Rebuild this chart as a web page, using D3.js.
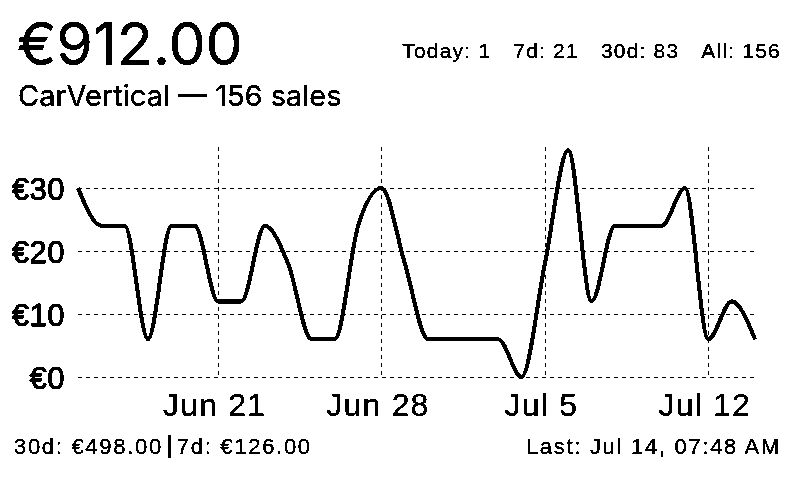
<!DOCTYPE html>
<html>
<head>
<meta charset="utf-8">
<script src="https://cdn.jsdelivr.net/npm/d3@7"></script>
<style>
  html, body { margin: 0; padding: 0; background: #fff; }
  svg { display: block; }
</style>
</head>
<body>
<svg id="chart" width="800" height="480"></svg>
<script>
// ---- data ----
const dates = [
  "2025-06-15","2025-06-16","2025-06-17","2025-06-18","2025-06-19","2025-06-20",
  "2025-06-21","2025-06-22","2025-06-23","2025-06-24","2025-06-25","2025-06-26",
  "2025-06-27","2025-06-28","2025-06-29","2025-06-30","2025-07-01","2025-07-02",
  "2025-07-03","2025-07-04","2025-07-05","2025-07-06","2025-07-07","2025-07-08",
  "2025-07-09","2025-07-10","2025-07-11","2025-07-12","2025-07-13","2025-07-14"
];
const prices = [30,24,24,6,24,24,12,12,24,18,6,6,24,30,18,6,6,6,6,0,18,36,12,24,24,24,30,6,12,6];
const xTickDates = ["2025-06-21","2025-06-28","2025-07-05","2025-07-12"];
const yTickValues = [0,10,20,30];
const headline = "€912.00";
const subtitle = "CarVertical — 156 sales";
const statLabels = ["Today: 1","7d: 21","30d: 83","All: 156"];
const footerLeft = ["30d: €498.00","7d: €126.00"];
const footerRight = "Last: Jul 14, 07:48 AM";

// ---- setup ----
const parse = d3.utcParse("%Y-%m-%d");
const data = dates.map((d, i) => ({ date: parse(d), value: prices[i] }));

const svg = d3.select("#chart");
const defs = svg.append("defs");
const f = defs.append("filter").attr("id", "mono")
  .attr("filterUnits", "userSpaceOnUse")
  .attr("x", 0).attr("y", 0).attr("width", 800).attr("height", 480);
const ct = f.append("feComponentTransfer");
ct.append("feFuncA").attr("type", "discrete").attr("tableValues", "0 1 1 1");

svg.append("rect").attr("width", 800).attr("height", 480).attr("fill", "#fff");
const g = svg.append("g").attr("filter", "url(#mono)");

const x = d3.scaleUtc()
  .domain(d3.extent(data, d => d.date))
  .range([78, 755]);
const y = d3.scaleLinear()
  .domain([0, 36.5])
  .range([377, 147]);

const smallFont = "'Liberation Sans', Arial, sans-serif";

// gridlines horizontal
g.append("g")
  .selectAll("line")
  .data(yTickValues)
  .join("line")
  .attr("x1", x.range()[0]).attr("x2", x.range()[1])
  .attr("y1", d => Math.round(y(d)) + 0.5).attr("y2", d => Math.round(y(d)) + 0.5)
  .attr("stroke", "#000").attr("stroke-width", 1).attr("stroke-dasharray", "4,4");

// gridlines vertical
const xt = xTickDates.map(parse);
g.append("g")
  .selectAll("line")
  .data(xt)
  .join("line")
  .attr("x1", d => Math.round(x(d)) + 0.5).attr("x2", d => Math.round(x(d)) + 0.5)
  .attr("y1", y.range()[1]).attr("y2", y.range()[0])
  .attr("stroke", "#000").attr("stroke-width", 1).attr("stroke-dasharray", "4,4");

// y axis labels
const yAxis = d3.axisLeft(y).tickValues(yTickValues).tickSize(0).tickPadding(0)
  .tickFormat(d => "€" + d);
const ya = g.append("g").attr("transform", "translate(65,0)").call(yAxis);
ya.select(".domain").remove();
ya.selectAll("text")
  .attr("font-family", smallFont).attr("font-size", 31)
  .attr("fill", "#000").attr("dy", "0.36em").attr("letter-spacing", "0.5px")
  .attr("stroke", "#000").attr("stroke-width", 0.6);

// x axis labels
const xAxis = d3.axisBottom(x).tickValues(xt).tickSize(0).tickPadding(0)
  .tickFormat(d3.utcFormat("%b %-d"));
const xa = g.append("g").attr("transform", "translate(0,393)").call(xAxis);
xa.select(".domain").remove();
xa.selectAll("text")
  .attr("font-family", smallFont).attr("font-size", 32)
  .attr("fill", "#000").attr("dy", "0.71em").attr("dx", -4)
  .attr("letter-spacing", "1.2px");

// line
const line = d3.line()
  .x(d => x(d.date))
  .y(d => y(d.value))
  .curve(d3.curveMonotoneX);
g.append("path")
  .datum(data)
  .attr("d", line)
  .attr("fill", "none")
  .attr("stroke", "#000")
  .attr("stroke-width", 3.6)
  .attr("stroke-linejoin", "round");

// header
g.append("text").attr("x", 17).attr("y", 65)
  .attr("font-family", "Inter, sans-serif").attr("font-size", 59)
  .attr("fill", "#000").text(headline);
g.append("text").attr("x", 18).attr("y", 106)
  .attr("font-family", "Inter, sans-serif").attr("font-size", 29)
  .attr("fill", "#000").text(subtitle);

// stats (laid out right to left)
const stats = g.append("g");
let rx = 781;
for (let i = statLabels.length - 1; i >= 0; i--) {
  const t = stats.append("text").attr("x", rx).attr("y", 58)
    .attr("text-anchor", "end")
    .attr("font-family", smallFont).attr("font-size", 21)
    .attr("letter-spacing", "1.2px")
    .attr("fill", "#000").text(statLabels[i]);
  rx -= t.node().getComputedTextLength() + 22;
}

// footer left
const fl1 = g.append("text").attr("x", 14).attr("y", 454)
  .attr("font-family", smallFont).attr("font-size", 22)
  .attr("letter-spacing", "1.7px").attr("fill", "#000").text(footerLeft[0]);
const w1 = fl1.node().getComputedTextLength();
g.append("rect").attr("x", 14 + w1 + 5).attr("y", 435).attr("width", 3).attr("height", 23).attr("fill", "#000");
g.append("text").attr("x", 14 + w1 + 14).attr("y", 454)
  .attr("font-family", smallFont).attr("font-size", 22)
  .attr("letter-spacing", "1.7px").attr("fill", "#000").text(footerLeft[1]);

// footer right
g.append("text").attr("x", 781).attr("y", 454).attr("text-anchor", "end")
  .attr("font-family", smallFont).attr("font-size", 22)
  .attr("letter-spacing", "1.7px").attr("fill", "#000").text(footerRight);
</script>
</body>
</html>
